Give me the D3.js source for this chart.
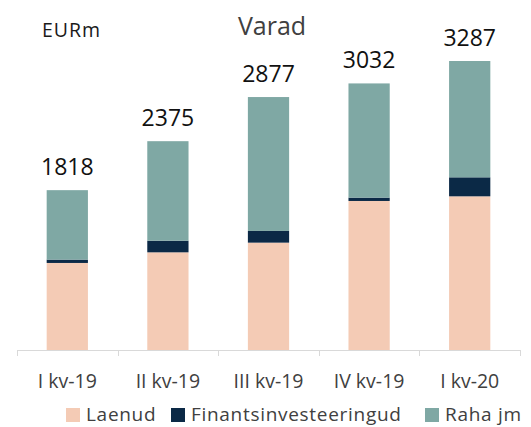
<!DOCTYPE html>
<html>
<head>
<meta charset="utf-8">
<script src="https://cdn.jsdelivr.net/npm/d3@7"></script>
<style>
  body { margin: 0; background: #fff; }
  svg text { font-family: 'Open Sans', 'Noto Sans', sans-serif; }
</style>
</head>
<body>
<div id="chart"></div>
<script>
const categories = ['I kv-19', 'II kv-19', 'III kv-19', 'IV kv-19', 'I kv-20']
const seriesNames = ['Laenud', 'Finantsinvesteeringud', 'Raha jm']
const laenud = [990, 1111, 1221, 1695, 1748]
const finants = [38, 132, 133, 38, 216]
const raha = [790, 1132, 1523, 1299, 1323]
const totals = [1818, 2375, 2877, 3032, 3287]

const colors = ['#F4CBB5', '#0B2946', '#7FA8A4']

const width = 531
const height = 427
const baseY = 350

const rows = categories.map((c, i) => ({
  cat: c,
  Laenud: laenud[i],
  Finantsinvesteeringud: finants[i],
  'Raha jm': raha[i],
  total: totals[i]
}))

const svg = d3.select('#chart')
  .append('svg')
  .attr('width', width)
  .attr('height', height)

const x = d3.scaleBand()
  .domain(categories)
  .range([17, 520])
  .paddingInner(0.59)
  .paddingOuter(0.295)

const y = d3.scaleLinear()
  .domain([0, d3.max(totals)])
  .range([baseY, 61])

const stacked = d3.stack().keys(seriesNames)(rows)

// ---------- bars ----------
svg.append('g')
  .selectAll('g')
  .data(stacked)
  .join('g')
  .attr('fill', (d, i) => colors[i])
  .selectAll('rect')
  .data(d => d)
  .join('rect')
  .attr('x', d => x(d.data.cat))
  .attr('width', x.bandwidth())
  .attr('y', d => y(d[1]))
  .attr('height', d => y(d[0]) - y(d[1]))

// ---------- x axis ----------
const gap = x.step() - x.bandwidth()
const edges = categories.map(c => x(c) - gap / 2)
edges.push(x(categories[categories.length - 1]) + x.bandwidth() + gap / 2)

const axis = svg.append('g')
axis.append('line')
  .attr('x1', edges[0]).attr('x2', edges[edges.length - 1])
  .attr('y1', baseY + 0.5).attr('y2', baseY + 0.5)
  .attr('stroke', '#D9D9D9').attr('stroke-width', 1)
axis.selectAll('.tick')
  .data(edges)
  .join('line')
  .attr('x1', d => Math.round(d) + 0.5).attr('x2', d => Math.round(d) + 0.5)
  .attr('y1', baseY).attr('y2', baseY + 6)
  .attr('stroke', '#D9D9D9')

axis.selectAll('.cat-label')
  .data(categories)
  .join('text')
  .attr('x', d => x(d) + x.bandwidth() / 2)
  .attr('y', 388)
  .attr('text-anchor', 'middle')
  .attr('fill', '#404040')
  .attr('font-size', 19.5)
  .text(d => d)

// ---------- totals ----------
svg.append('g')
  .selectAll('text')
  .data(rows)
  .join('text')
  .attr('x', d => x(d.cat) + x.bandwidth() / 2)
  .attr('y', d => y(d.total) - 15)
  .attr('text-anchor', 'middle')
  .attr('fill', '#111')
  .attr('font-size', 23)
  .text(d => d.total)

// ---------- titles ----------
svg.append('text')
  .attr('x', 42).attr('y', 37)
  .attr('fill', '#1a1a1a')
  .attr('font-size', 19.5)
  .attr('letter-spacing', 1)
  .text('EURm')

svg.append('text')
  .attr('x', 272).attr('y', 35)
  .attr('text-anchor', 'middle')
  .attr('fill', '#404040')
  .attr('font-size', 25)
  .text('Varad')

// ---------- legend ----------
const legendPos = [66, 171, 425]
const legend = svg.append('g')
  .selectAll('g')
  .data(seriesNames)
  .join('g')
  .attr('transform', (d, i) => `translate(${legendPos[i]},407)`)
legend.append('rect')
  .attr('width', 14).attr('height', 14)
  .attr('y', 1)
  .attr('fill', (d, i) => colors[i])
legend.append('text')
  .attr('x', 20).attr('y', 14)
  .attr('fill', '#404040')
  .attr('font-size', 19)
  .attr('letter-spacing', 0.7)
  .text(d => d)
</script>
</body>
</html>
